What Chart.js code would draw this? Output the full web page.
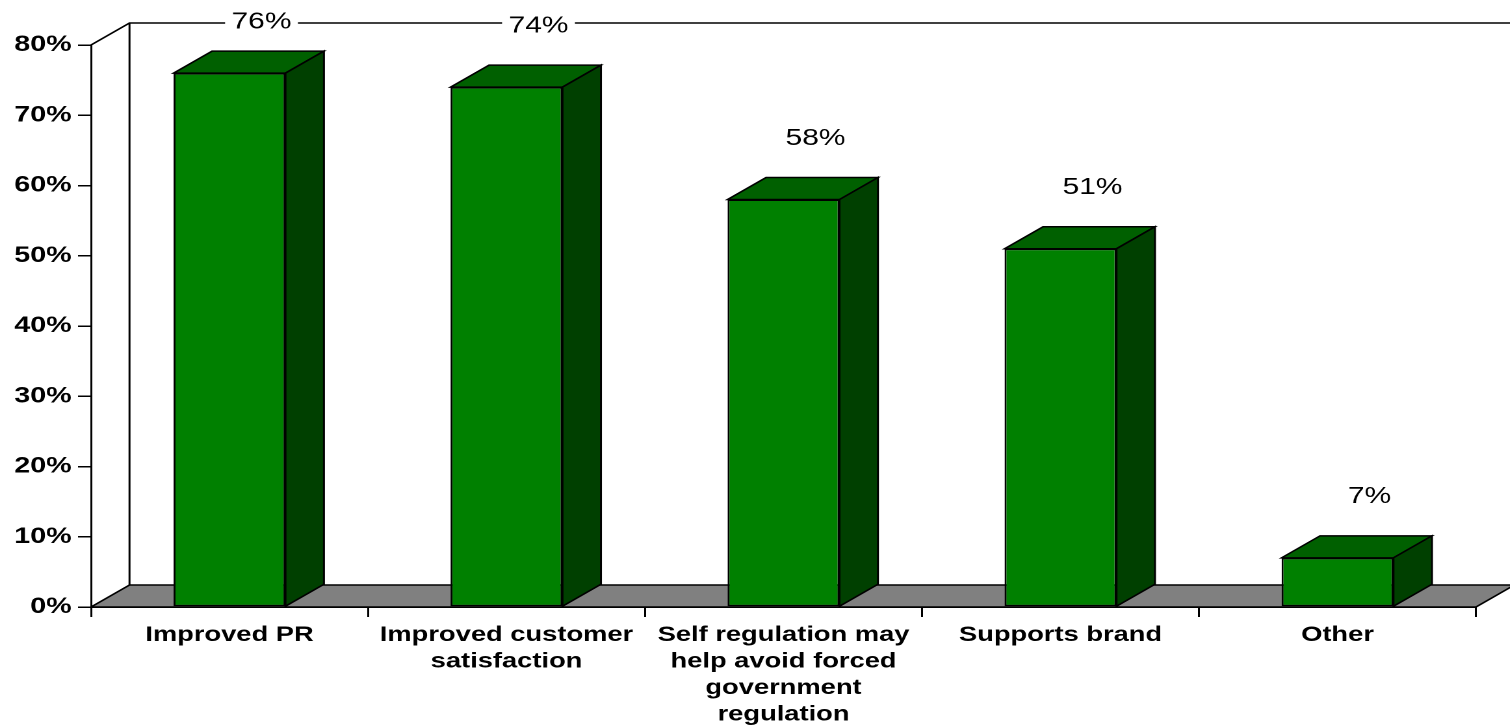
<!DOCTYPE html>
<html>
<head>
<meta charset="utf-8">
<title>Benefits of self regulation</title>
<script src="https://cdn.jsdelivr.net/npm/chart.js@4/dist/chart.umd.min.js"></script>
<style>
  html, body { margin: 0; padding: 0; background: #fff; overflow: hidden; }
  /* The chart is laid out at a narrower logical width and widened horizontally */
  #wrap { width: 1162px; height: 727px; transform: scaleX(1.3); transform-origin: 0 0; }
</style>
</head>
<body>
<div id="wrap"><canvas id="chart"></canvas></div>
<script>
// Answer categories (each entry split into its label lines)
const categories = [
  ["Improved PR"],
  ["Improved customer", "satisfaction"],
  ["Self regulation may", "help avoid forced", "government", "regulation"],
  ["Supports brand"],
  ["Other"]
];
// Share of respondents, in percent
const shares = [76, 74, 58, 51, 7];
// Value axis ticks, in percent
const yTickValues = [0, 10, 20, 30, 40, 50, 60, 70, 80];

const STRETCH = 1.3;            // horizontal widening of the wrapper
const DEPTH_X = 38.5 / STRETCH; // depth offset of the 3D box
const DEPTH_Y = -22;
const FONT = "'Liberation Sans', Arial, sans-serif";

function fillPoly(ctx, pts, color) {
  ctx.beginPath();
  ctx.moveTo(pts[0][0], pts[0][1]);
  for (let i = 1; i < pts.length; i++) ctx.lineTo(pts[i][0], pts[i][1]);
  ctx.closePath();
  ctx.fillStyle = color;
  ctx.fill();
  ctx.stroke();
}

// Draws the back wall, the grey floor and the top/side faces of each column
const box3d = {
  id: 'box3d',
  beforeDatasetsDraw(chart) {
    const { ctx, chartArea: a, scales: { y } } = chart;
    const yTop = y.getPixelForValue(yTickValues[yTickValues.length - 1]);
    const yBot = y.getPixelForValue(0);
    ctx.save();
    ctx.strokeStyle = '#000';
    ctx.lineWidth = 1.5;
    ctx.lineJoin = 'miter';
    // back wall outline
    ctx.beginPath();
    ctx.moveTo(a.left, yTop);
    ctx.lineTo(a.left + DEPTH_X, yTop + DEPTH_Y);
    ctx.lineTo(chart.width + 60, yTop + DEPTH_Y);
    ctx.moveTo(a.left + DEPTH_X, yTop + DEPTH_Y);
    ctx.lineTo(a.left + DEPTH_X, yBot + DEPTH_Y);
    ctx.stroke();
    // floor
    fillPoly(ctx, [
      [a.left, yBot], [a.right, yBot],
      [a.right + DEPTH_X, yBot + DEPTH_Y], [a.left + DEPTH_X, yBot + DEPTH_Y]
    ], '#808080');
    ctx.restore();
  },
  afterDatasetsDraw(chart) {
    const { ctx } = chart;
    const meta = chart.getDatasetMeta(0);
    ctx.save();
    ctx.strokeStyle = '#000';
    ctx.lineWidth = 1.5;
    meta.data.forEach((bar) => {
      const { x, y, base, width } = bar.getProps(['x', 'y', 'base', 'width'], true);
      const l = x - width / 2, r = x + width / 2;
      fillPoly(ctx, [[l, y], [r, y], [r + DEPTH_X, y + DEPTH_Y], [l + DEPTH_X, y + DEPTH_Y]], '#006000');
      fillPoly(ctx, [[r, y], [r + DEPTH_X, y + DEPTH_Y], [r + DEPTH_X, base + DEPTH_Y], [r, base]], '#004000');
    });
    // value labels
    ctx.font = '23px ' + FONT;
    ctx.textAlign = 'center';
    ctx.textBaseline = 'middle';
    meta.data.forEach((bar, i) => {
      const { x, y } = bar.getProps(['x', 'y'], true);
      const text = shares[i] + '%';
      const tx = x + 32 / STRETCH;
      const ty = Math.max(y - 62, 21);
      const w = ctx.measureText(text).width;
      ctx.fillStyle = '#fff';
      ctx.fillRect(tx - w / 2 - 5, ty - 11, w + 10, 22);
      ctx.fillStyle = '#000';
      ctx.fillText(text, tx, ty + 1);
    });
    ctx.restore();
  }
};

new Chart(document.getElementById('chart'), {
  type: 'bar',
  data: {
    labels: categories,
    datasets: [{
      data: shares,
      backgroundColor: '#008000',
      borderColor: '#000',
      borderWidth: 1.5,
      borderSkipped: false,
      barPercentage: 0.404,
      categoryPercentage: 1
    }]
  },
  options: {
    responsive: true,
    maintainAspectRatio: false,
    devicePixelRatio: 2,
    animation: false,
    layout: { padding: { top: 45, right: 26.6, left: 0, bottom: 0 } },
    plugins: { legend: { display: false }, tooltip: { enabled: false } },
    scales: {
      y: {
        min: 0,
        max: 80,
        afterBuildTicks: (s) => { s.ticks = yTickValues.map(v => ({ value: v })); },
        afterFit: (s) => { s.width = 70; },
        ticks: {
          callback: (v) => v + '%',
          color: '#000',
          padding: 5,
          font: { family: FONT, size: 22, weight: 'bold' }
        },
        grid: { drawOnChartArea: false, drawTicks: true, tickLength: 10, color: '#000', lineWidth: 1.5 },
        border: { color: '#000', width: 1.5 }
      },
      x: {
        afterFit: (s) => { s.height = 120; },
        ticks: {
          color: '#000',
          padding: 5,
          maxRotation: 0,
          autoSkip: false,
          font: { family: FONT, size: 21, weight: 'bold', lineHeight: 1.26 }
        },
        grid: { drawOnChartArea: false, drawTicks: true, tickLength: 10, color: '#000', lineWidth: 1.5, offset: true },
        border: { color: '#000', width: 1.5 }
      }
    }
  },
  plugins: [box3d]
});
</script>
</body>
</html>
